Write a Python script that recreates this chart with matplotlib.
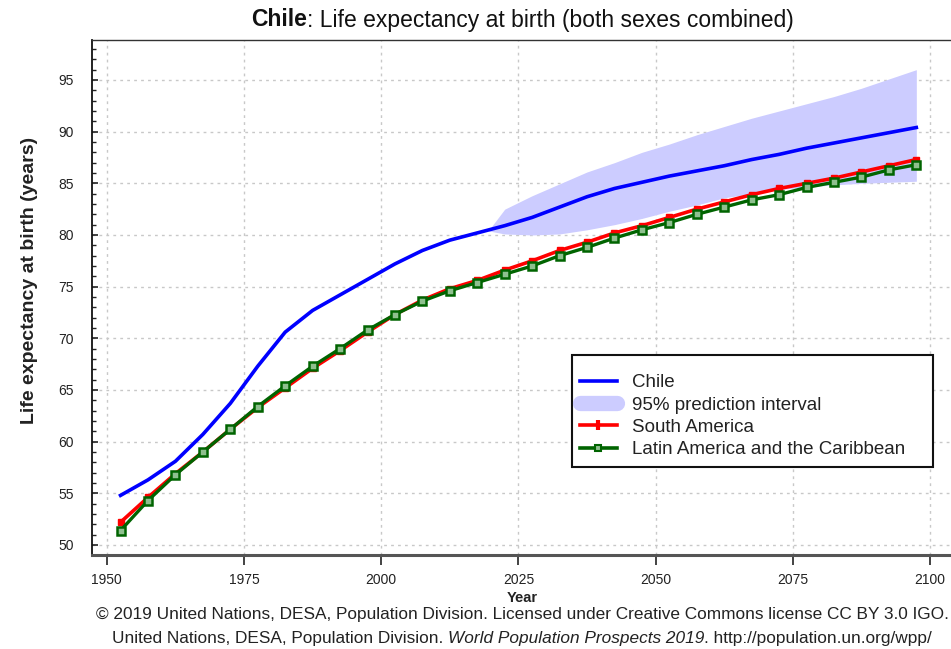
import matplotlib
matplotlib.use("Agg")
import matplotlib.pyplot as plt
from matplotlib.lines import Line2D
from matplotlib.patches import Rectangle
from matplotlib.ticker import MultipleLocator

plt.rcParams['font.family'] = ['Liberation Sans', 'DejaVu Sans']

# Five-year period midpoints
years = [1952.5, 1957.5, 1962.5, 1967.5, 1972.5, 1977.5, 1982.5, 1987.5,
         1992.5, 1997.5, 2002.5, 2007.5, 2012.5, 2017.5, 2022.5, 2027.5,
         2032.5, 2037.5, 2042.5, 2047.5, 2052.5, 2057.5, 2062.5, 2067.5,
         2072.5, 2077.5, 2082.5, 2087.5, 2092.5, 2097.5]

chile = [54.8, 56.3, 58.1, 60.7, 63.7, 67.3, 70.6, 72.7, 74.2, 75.7,
         77.2, 78.5, 79.5, 80.2, 80.9, 81.7, 82.7, 83.7, 84.5, 85.1,
         85.7, 86.2, 86.7, 87.3, 87.8, 88.4, 88.9, 89.4, 89.9, 90.4]

south_america = [52.2, 54.6, 56.9, 59.0, 61.2, 63.3, 65.2, 67.1, 68.8, 70.6,
                 72.3, 73.7, 74.8, 75.6, 76.6, 77.5, 78.5, 79.3, 80.2, 80.9,
                 81.7, 82.5, 83.2, 83.9, 84.5, 85.0, 85.5, 86.1, 86.7, 87.3]

latin_america = [51.4, 54.3, 56.8, 59.0, 61.2, 63.4, 65.4, 67.3, 69.0, 70.8,
                 72.3, 73.6, 74.6, 75.4, 76.2, 77.0, 78.0, 78.8, 79.7, 80.5,
                 81.2, 82.0, 82.7, 83.4, 83.9, 84.6, 85.1, 85.6, 86.3, 86.8]

# 95% prediction interval for Chile (projection period)
pi_years = [2019.5, 2022.5, 2027.5, 2032.5, 2037.5, 2042.5, 2047.5, 2052.5,
            2057.5, 2062.5, 2067.5, 2072.5, 2077.5, 2082.5, 2087.5, 2092.5,
            2097.5]
pi_upper = [80.4, 82.5, 83.8, 84.95, 86.1, 87.0, 88.0, 88.8, 89.7, 90.5,
            91.3, 92.0, 92.7, 93.4, 94.2, 95.1, 96.0]
pi_lower = [80.4, 80.1, 80.0, 80.1, 80.5, 81.0, 81.6, 82.3, 82.9, 83.6,
            84.0, 84.4, 84.65, 84.85, 85.0, 85.1, 85.2]

x_ticks = [1950, 1975, 2000, 2025, 2050, 2075, 2100]
y_ticks = [50, 55, 60, 65, 70, 75, 80, 85, 90, 95]

BLUE = '#0000ff'
BAND = '#ccccff'
RED = '#ff0000'
GREEN = '#006400'
TXT = '#222222'
W, H = 951, 649
AX_L, AX_R, AX_T, AX_B = 92, 952, 40, 555


def ax_x(px):
    return (px - AX_L) / (AX_R - AX_L)


def ax_y(py):
    return (AX_B - py) / (AX_B - AX_T)


fig = plt.figure(figsize=(W / 100, H / 100), dpi=100)
ax = fig.add_axes([AX_L / W, 1 - AX_B / H, (AX_R - AX_L) / W, (AX_B - AX_T) / H])

ax.fill_between(pi_years, pi_lower, pi_upper, color=BAND, lw=0, zorder=1)
ax.plot(years, chile, color=BLUE, lw=2.6, zorder=3)
ax.plot(years, south_america, color=RED, lw=2.6, marker='s', ms=4,
        mfc=RED, mec=RED, zorder=4)
ax.plot(years, latin_america, color=GREEN, lw=2.4, marker='s', ms=5.5,
        mfc='#8fc08f', mec=GREEN, mew=1.8, zorder=5)

ax.set_xlim(1947.3, 2104)
ax.set_ylim(49.03, 98.87)
ax.set_xticks(x_ticks)
ax.set_yticks(y_ticks)
ax.yaxis.set_minor_locator(MultipleLocator(1))

ax.grid(True, which='major', color='#c8c8c8', linestyle=(0, (2, 3)), lw=1)
ax.set_axisbelow(True)

ax.tick_params(axis='x', direction='out', length=7, width=1.2,
               color='#222222', labelsize=10, pad=6, labelcolor=TXT)
ax.tick_params(axis='y', which='major', direction='in', length=4, width=1.2,
               labelsize=10, pad=13, labelcolor=TXT, color='#222222')
ax.tick_params(axis='y', which='minor', direction='in', length=3, width=1,
               color='#222222')

ax.spines['left'].set_linewidth(1.3)
ax.spines['left'].set_color('#111111')
ax.spines['top'].set_linewidth(1.0)
ax.spines['top'].set_color('#333333')
ax.spines['bottom'].set_linewidth(2.2)
ax.spines['bottom'].set_color('#555555')
ax.spines['right'].set_visible(False)

ax.set_xlabel('Year', fontsize=10.5, fontweight='bold', color=TXT)
ax.xaxis.set_label_coords(ax_x(522), ax_y(598))
ax.xaxis.label.set_va('center')
ax.set_ylabel('Life expectancy at birth (years)', fontsize=14,
              fontweight='bold', color=TXT)
ax.yaxis.set_label_coords(ax_x(30), ax_y(280))
ax.yaxis.label.set_va('center')

# Title: bold country name followed by the indicator name, centred on the axes
TITLE_FS = 16.5
ty = 1 - 20 / H
probe = fig.text(0, ty, 'Chile', fontsize=TITLE_FS, fontweight='bold')
rest = ': Life expectancy at birth (both sexes combined)'
probe2 = fig.text(0, ty, rest, fontsize=TITLE_FS)
fig.canvas.draw()
w1 = probe.get_window_extent().width
w2 = probe2.get_window_extent().width
probe.remove()
probe2.remove()
x0 = 522 - (w1 + w2) / 2
fig.text(x0 / W, ty, 'Chile', ha='left', va='center', fontsize=TITLE_FS,
         fontweight='bold', color='#111111')
fig.text((x0 + w1) / W, ty, rest, ha='left', va='center', fontsize=TITLE_FS,
         color='#111111')

# Legend: entries without frame, plus a plain rectangular box around them
handles = [
    Line2D([], [], color=BLUE, lw=2.6),
    Line2D([], [], color=BAND, lw=11, solid_capstyle='round'),
    Line2D([], [], color=RED, lw=2.6, marker='|', ms=7, mew=3),
    Line2D([], [], color=GREEN, lw=2.6, marker='s', ms=5, mfc='#8fc08f',
           mec=GREEN, mew=1.5),
]
labels = ['Chile', '95% prediction interval', 'South America',
          'Latin America and the Caribbean']
leg = ax.legend(handles, labels, loc='upper left',
                bbox_to_anchor=(ax_x(580), ax_y(374)),
                fontsize=13.5, frameon=False, handlelength=1.95,
                handletextpad=0.8, labelspacing=0.28, borderpad=0,
                borderaxespad=0)
leg.set_zorder(7)
for t in leg.get_texts():
    t.set_color(TXT)
box = Rectangle((ax_x(572), ax_y(467)), ax_x(933) - ax_x(572),
                ax_y(355) - ax_y(467), transform=ax.transAxes,
                facecolor='white', edgecolor='#111111', lw=1.5, zorder=6)
ax.add_patch(box)

FOOT_FS = 12.4
cx = 522 / W
fig.text(cx, 1 - 615 / H,
         '\u00a9 2019 United Nations, DESA, Population Division. Licensed under '
         'Creative Commons license CC BY 3.0 IGO.',
         ha='center', va='center', fontsize=FOOT_FS, color=TXT)

part_a = 'United Nations, DESA, Population Division. '
part_b = 'World Population Prospects 2019'
part_c = '. http://population.un.org/wpp/'
fy = 1 - 638 / H
ta = fig.text(0, fy, part_a, ha='left', va='center', fontsize=FOOT_FS, color=TXT)
tb = fig.text(0, fy, part_b, ha='left', va='center', fontsize=FOOT_FS,
              style='italic', color=TXT)
tc = fig.text(0, fy, part_c, ha='left', va='center', fontsize=FOOT_FS, color=TXT)
fig.canvas.draw()
wa = ta.get_window_extent().width
wb = tb.get_window_extent().width
wc = tc.get_window_extent().width
start = 522 - (wa + wb + wc) / 2
ta.set_x(start / W)
tb.set_x((start + wa) / W)
tc.set_x((start + wa + wb) / W)

fig.savefig('out.png', dpi=100, facecolor='white')
